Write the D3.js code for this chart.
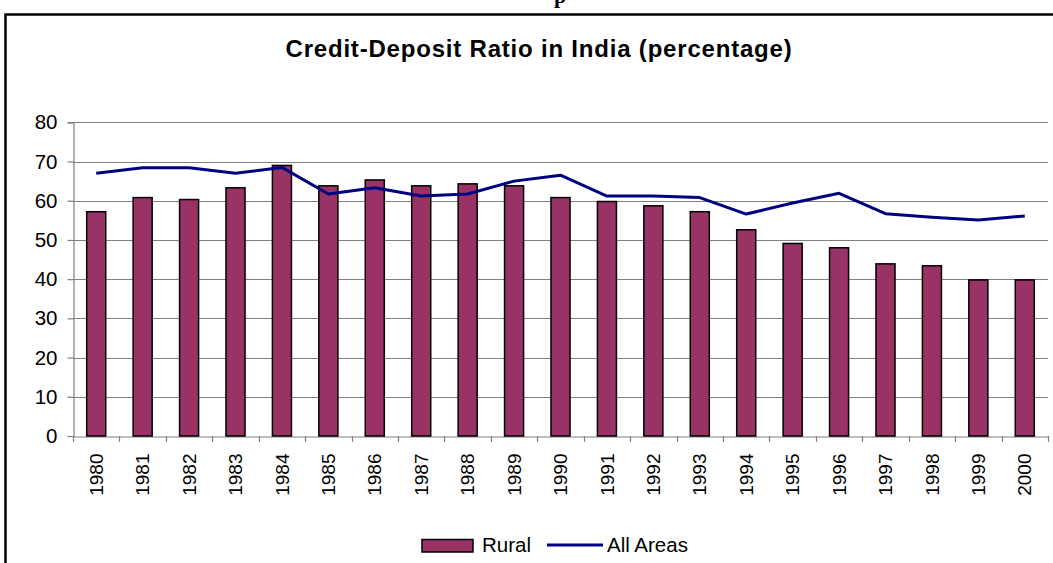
<!DOCTYPE html>
<html><head><meta charset="utf-8">
<script src="https://cdn.jsdelivr.net/npm/d3@7"></script>
<style>html,body{margin:0;padding:0;background:#fff;overflow:hidden}</style>
</head><body><svg id="c" width="1053" height="563"></svg>
<script>
const years = ["1980","1981","1982","1983","1984","1985","1986","1987","1988","1989","1990","1991","1992","1993","1994","1995","1996","1997","1998","1999","2000"];
const rural = [57.2,60.8,60.3,63.3,69.0,63.8,65.3,63.8,64.3,63.8,60.8,59.8,58.7,57.2,52.6,49.1,48.0,43.9,43.4,39.8,39.8];
const allAreas = [67.0,68.4,68.4,67.0,68.5,61.7,63.3,61.2,61.7,65.0,66.5,61.2,61.2,60.8,56.6,59.4,61.9,56.7,55.8,55.1,56.1];
const yTicks = [0,10,20,30,40,50,60,70,80];
const title = "Credit-Deposit Ratio in India (percentage)";
const seriesNames = ["Rural","All Areas"];

const svg = d3.select("#c");
const font = "Arial, 'Liberation Sans', sans-serif";
const L = 73, R = 1048, T = 122.3, B = 436;

// cut-off heading above frame
svg.append("text").attr("x",560).attr("y",3).attr("text-anchor","middle")
  .attr("font-family","'Liberation Serif', 'Times New Roman', serif").attr("font-weight","bold")
  .attr("font-size",22).text("p");

// outer frame
svg.append("rect").attr("x",5.5).attr("y",14.5).attr("width",1100).attr("height",600)
  .attr("fill","none").attr("stroke","#000").attr("stroke-width",2.5);

svg.append("text").attr("x",539).attr("y",57).attr("text-anchor","middle")
  .attr("font-family",font).attr("font-weight","bold").attr("font-size",24)
  .attr("letter-spacing",0.8).text(title);

const x = d3.scaleBand().domain(years).range([L,R]).paddingInner(0).paddingOuter(0);
const y = d3.scaleLinear().domain([0,80]).range([B,T]);

// gridlines
svg.append("g").selectAll("line").data(yTicks.slice(1)).join("line")
  .attr("x1",L).attr("x2",R).attr("y1",d=>Math.round(y(d))+0.5).attr("y2",d=>Math.round(y(d))+0.5)
  .attr("stroke","#808080").attr("stroke-width",1.2);

// y axis
const ya = svg.append("g").attr("transform",`translate(${L+0.5},0)`)
  .call(d3.axisLeft(y).tickValues(yTicks).tickSize(6).tickPadding(10));
ya.select(".domain").attr("stroke","#808080").attr("stroke-width",1.2);
ya.selectAll(".tick line").attr("stroke","#808080").attr("stroke-width",1.2);
ya.selectAll("text").attr("font-family",font).attr("font-size",20.5).attr("fill","#000");

// x axis with ticks at band boundaries
const xa = svg.append("g").attr("transform",`translate(0,${B+0.5})`)
  .call(d3.axisBottom(x).tickSize(0).tickPadding(0));
xa.select(".domain").attr("stroke","#808080").attr("stroke-width",1.2);
xa.selectAll(".tick text").attr("font-family",font).attr("font-size",19).attr("fill","#000")
  .attr("text-anchor","end").attr("dy","0.35em")
  .attr("transform","translate(0,17) rotate(-90)");
const bounds = years.map(d=>x(d)).concat([R]);
svg.append("g").selectAll("line").data(bounds).join("line")
  .attr("x1",d=>Math.round(d)+0.5).attr("x2",d=>Math.round(d)+0.5).attr("y1",B).attr("y2",B+6)
  .attr("stroke","#808080").attr("stroke-width",1.2);

// bars
const bw = x.bandwidth()*0.41;
svg.append("g").selectAll("rect").data(years).join("rect")
  .attr("x",(d)=>x(d)+x.bandwidth()/2-bw/2).attr("width",bw)
  .attr("y",(d,i)=>y(rural[i])).attr("height",(d,i)=>B-y(rural[i]))
  .attr("fill","#993366").attr("stroke","#000").attr("stroke-width",1.5);

// line
const line = d3.line().x((d,i)=>x(years[i])+x.bandwidth()/2).y(d=>y(d));
svg.append("path").datum(allAreas).attr("d",line).attr("fill","none")
  .attr("stroke","#000080").attr("stroke-width",3).attr("stroke-linejoin","round");

// legend
const lg = svg.append("g");
lg.append("rect").attr("x",422).attr("y",539.5).attr("width",51).attr("height",12.5)
  .attr("fill","#993366").attr("stroke","#000").attr("stroke-width",1.5);
lg.append("text").attr("x",482).attr("y",552).attr("font-family",font).attr("font-size",20.5).text(seriesNames[0]);
lg.append("line").attr("x1",547).attr("x2",603).attr("y1",545).attr("y2",545)
  .attr("stroke","#000080").attr("stroke-width",3);
lg.append("text").attr("x",607).attr("y",552).attr("font-family",font).attr("font-size",20.5).text(seriesNames[1]);
</script></body></html>
